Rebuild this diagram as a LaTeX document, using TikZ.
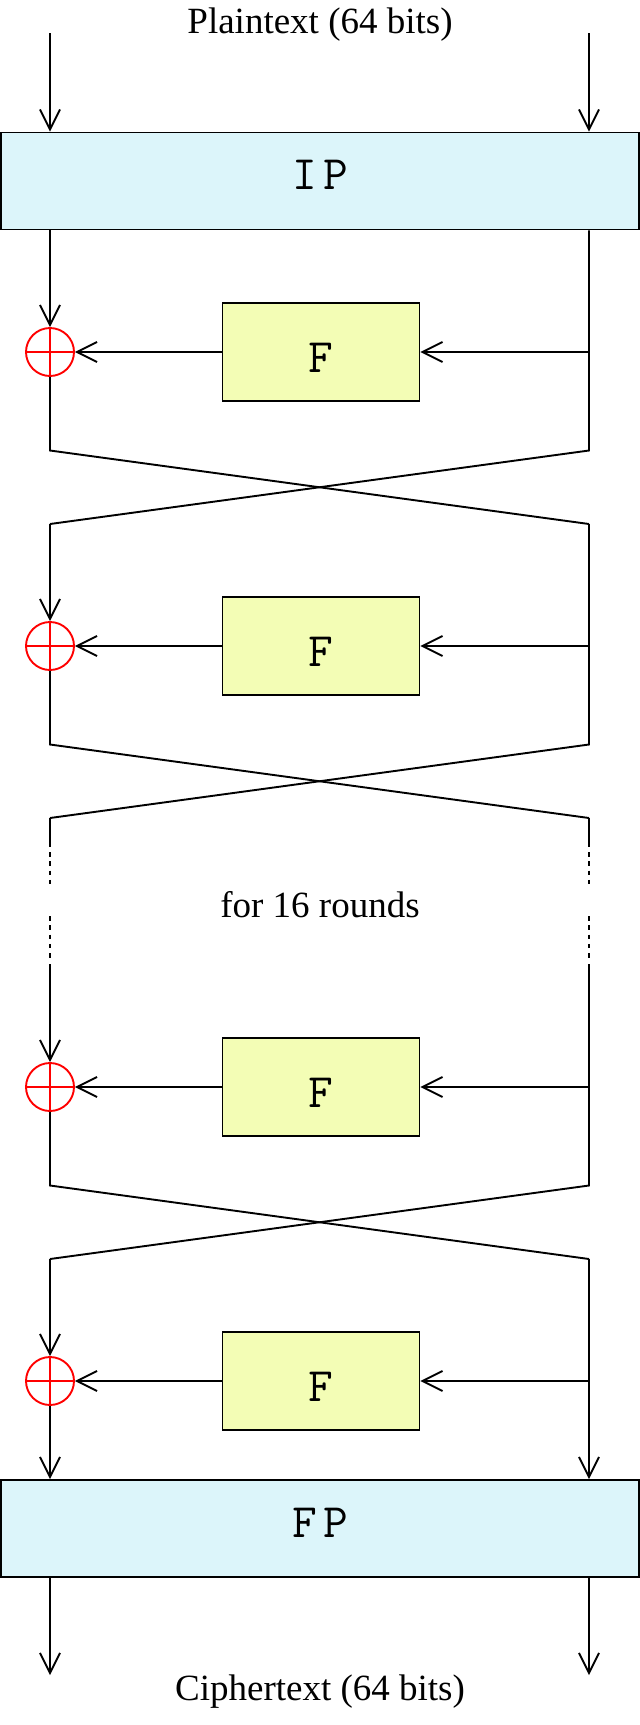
\documentclass[tikz,border=0pt]{standalone}
\usepackage{fontspec}
\setmainfont{Liberation Serif}
\usepackage{tikz}
\usetikzlibrary{arrows.meta}
\usepackage{xcolor}

\definecolor{ipcyan}{HTML}{DCF5FA}
\definecolor{fyellow}{HTML}{F3FDB5}

\begin{document}
\begin{tikzpicture}[x=1pt, y=-1pt, line width=1.9pt,
    >={Straight Barb[length=20pt,width=20pt]},
    permbox/.style={draw, fill=ipcyan, inner sep=0pt, minimum width=638pt, minimum height=97pt,
        font=\fontsize{48}{56}\selectfont\ttfamily, text height=29pt, text depth=12pt},
    fbox/.style={draw, fill=fyellow, inner sep=0pt, minimum width=197pt, minimum height=98pt,
        font=\fontsize{48}{56}\selectfont\ttfamily, text height=41pt, text depth=0pt},
    xorop/.style={circle, draw=red, inner sep=0pt, minimum size=48pt,
        path picture={\draw[red] (path picture bounding box.north) -- (path picture bounding box.south)
            (path picture bounding box.west) -- (path picture bounding box.east);}},
    txt/.style={anchor=base, font=\fontsize{37}{44}\selectfont},
    gapdash/.style={dash pattern=on 4.5pt off 4.8pt}]
            \useasboundingbox (0,0) rectangle (640,1725);

            % Input and initial permutation
            \node[txt] (plain) at (320,33) {Plaintext (64 bits)};
            \coordinate (inL) at (50,33);
            \coordinate (inR) at (589,33);
            \node[permbox] (ip) at (320,181) {I\kern6pt P};
            \draw[->] (inL) -- (inL |- ip.north);
            \draw[->] (inR) -- (inR |- ip.north);

            % Round function and xor of each round
            \foreach \n/\y in {1/352, 2/646, 3/1087, 4/1381} {
                \node[fbox] (f\n) at (321,\y) {F};
                \node[xorop] (x\n) at (50,\y) {};
                \coordinate (r\n) at (589,\y);
                \draw[->] (r\n) -- (f\n.east);
                \draw[->] (f\n.west) -- (x\n.east);
            }

            % Corners of the swaps
            \foreach \n/\y in {1/352, 2/646, 3/1087} {
                \coordinate (cl\n) at (50,{\y+98.5});
                \coordinate (cr\n) at (589,{\y+98.5});
                \coordinate (ol\n) at (50,{\y+172});
                \coordinate (or\n) at (589,{\y+172});
            }

            % Round 1
            \draw[->] (ip.south -| x1) -- (x1.north);
            \draw (x1.south) -- (cl1) -- (or1);
            \draw (ip.south -| inR) -- (cr1) -- (ol1);

            % Round 2
            \draw[->] (ol1) -- (x2.north);
            \draw (x2.south) -- (cl2) -- (or2);
            \draw (or1) -- (cr2) -- (ol2);

            % Rounds left out
            \node[txt] (rounds) at (320,917) {for 16 rounds};
            \draw (ol2) -- ++(0,29);
            \draw (or2) -- ++(0,29);
            \foreach \xx in {50,589} {
                \draw[gapdash] (\xx,852) -- (\xx,887);
                \draw[gapdash] (\xx,916) -- (\xx,960);
            }
            \coordinate (il3) at (50,964);
            \coordinate (ir3) at (589,964);

            % Round 15
            \draw[->] (il3) -- (x3.north);
            \draw (x3.south) -- (cl3) -- (or3);
            \draw (ir3) -- (cr3) -- (ol3);

            % Round 16 and final permutation
            \node[permbox] (fp) at (320,1528.5) {F\kern6pt P};
            \draw[->] (ol3) -- (x4.north);
            \draw[->] (x4.south) -- (fp.north -| x4);
            \draw[->] (or3) -- (fp.north -| or3);

            % Output
            \coordinate (outL) at (50,1675);
            \coordinate (outR) at (589,1675);
            \draw[->] (fp.south -| outL) -- (outL);
            \draw[->] (fp.south -| outR) -- (outR);
            \node[txt] (cipher) at (320,1700) {Ciphertext (64 bits)};
        \end{tikzpicture}
\end{document}
